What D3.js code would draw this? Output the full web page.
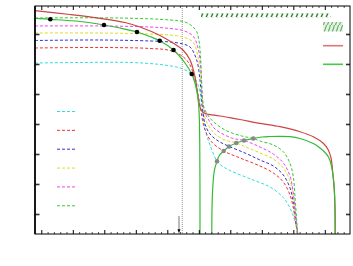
<!DOCTYPE html>
<html>
<head>
<meta charset="utf-8">
<script src="https://d3js.org/d3.v7.min.js"></script>
<style>
  body { margin: 0; background: #fff; }
  svg { display: block; }
</style>
</head>
<body>
<div id="chart"></div>
<script>
// curve data, [x, y] in axis units (no tick labels in the original)
var dashCyan = [[0.8,6.033],[2.229,6.05],[3.816,6.05],[4.768,5.983],[5.403,5.867],[5.721,5.7],[5.933,5.41],[6.038,5.067],[6.092,4.633],[6.143,4.2],[6.229,3.7],[6.356,3.3],[6.578,2.757],[6.737,2.6],[6.99,2.45],[7.721,2.133],[8.26,1.9],[8.683,1.55],[8.895,1.2],[9.0,0.933],[9.102,0.567],[9.149,0.333]];
var dashRed = [[0.8,6.533],[2.863,6.55],[4.451,6.517],[5.086,6.45],[5.498,6.243],[5.721,5.967],[5.879,5.467],[5.984,4.933],[6.054,4.533],[6.117,4.133],[6.197,3.8],[6.41,3.4],[6.79,3.1],[7.308,2.867],[7.943,2.6],[8.365,2.367],[8.683,2.067],[8.895,1.633],[9.0,1.2],[9.086,0.633],[9.133,0.333]];
var dashBlue = [[0.8,6.783],[2.863,6.8],[4.451,6.767],[5.086,6.733],[5.498,6.667],[5.721,6.567],[5.933,6.133],[6.038,5.467],[6.086,4.867],[6.133,4.4],[6.197,4.0],[6.356,3.667],[6.619,3.433],[6.968,3.25],[7.467,3.033],[7.943,2.8],[8.365,2.6],[8.683,2.3],[8.895,1.867],[9.0,1.4],[9.086,0.733],[9.133,0.333]];
var dashYellow = [[0.8,7.033],[2.863,7.033],[4.451,7.0],[5.086,6.967],[5.498,6.9],[5.816,6.733],[5.975,6.233],[6.06,5.567],[6.102,4.967],[6.133,4.6],[6.197,4.2],[6.356,3.867],[6.514,3.667],[6.832,3.467],[7.19,3.367],[7.562,3.2],[7.943,3.033],[8.365,2.833],[8.683,2.533],[8.895,2.1],[9.0,1.6],[9.086,0.8],[9.133,0.333]];
var dashMagenta = [[0.8,7.267],[2.863,7.267],[4.451,7.233],[5.086,7.183],[5.498,7.117],[5.816,6.933],[5.975,6.533],[6.06,5.9],[6.102,5.133],[6.133,4.7],[6.197,4.367],[6.356,4.067],[6.514,3.833],[7.044,3.533],[7.435,3.45],[7.943,3.233],[8.365,3.0],[8.683,2.7],[8.895,2.267],[9.0,1.7],[9.086,0.867],[9.133,0.333]];
var dashGreen = [[0.8,7.533],[3.498,7.533],[5.086,7.467],[5.562,7.4],[5.784,7.267],[5.933,7.077],[6.016,6.7],[6.06,6.133],[6.086,5.467],[6.102,4.967],[6.133,4.667],[6.197,4.467],[6.41,4.133],[6.832,3.8],[7.362,3.6],[7.73,3.517],[7.943,3.433],[8.365,3.3],[8.683,3.077],[8.895,2.69],[9.0,2.243],[9.054,1.577],[9.108,0.8],[9.143,0.333]];

var solidRed = [[0.8,7.777],[1.911,7.65],[2.863,7.523],[3.657,7.383],[4.133,7.233],[4.768,6.95],[5.181,6.7],[5.498,6.467],[5.721,6.133],[5.879,5.577],[5.975,4.91],[6.038,4.567],[6.133,4.383],[6.673,4.267],[7.308,4.15],[7.943,4.023],[8.578,3.91],[9.213,3.743],[9.635,3.577],[9.952,3.357],[10.111,3.133],[10.197,2.867],[10.26,2.3],[10.302,1.8],[10.324,1.133],[10.33,0.333]];
var solidGreenA = [[0.8,7.523],[1.286,7.49],[2.229,7.417],[2.99,7.3],[3.498,7.2],[4.038,7.067],[4.451,6.917],[4.759,6.777],[5.197,6.467],[5.562,6.033],[5.775,5.667],[5.879,5.367],[5.959,4.967],[6.006,4.467],[6.029,3.467],[6.036,2.133],[6.038,0.333]];
var solidGreenB = [[6.41,0.333],[6.419,1.133],[6.429,1.567],[6.46,2.133],[6.498,2.467],[6.578,2.757],[6.641,2.933],[6.79,3.1],[6.959,3.25],[7.19,3.367],[7.435,3.45],[7.73,3.517],[8.006,3.567],[8.26,3.583],[8.578,3.59],[8.895,3.577],[9.213,3.517],[9.635,3.35],[9.848,3.2],[10.006,3.05],[10.117,2.9],[10.197,2.667],[10.26,2.3],[10.302,1.8],[10.324,1.133],[10.33,0.333]];

var blackDots = [[1.286,7.49],[2.99,7.3],[4.038,7.067],[4.759,6.777],[5.197,6.467],[5.775,5.667]];
var greyDots = [[6.578,2.757],[6.79,3.1],[6.959,3.25],[7.19,3.367],[7.435,3.45],[7.73,3.517]];

var markerX = 5.476;          // dotted vertical line
var arrowX = 5.371;           // small arrow on the bottom axis
var arrowY = [0.933, 0.36];
var hatchRange = [6.07, 10.197];
var hatchY = [7.69, 7.557];

var xMajor = [1,2,3,4,5,6,7,8,9,10];
var xMinor = d3.range(5, 54).map(function(i){ return +(i * 0.2).toFixed(1); })
    .filter(function(v){ return v > 0.8 && v < 10.8 && xMajor.indexOf(v) < 0; });
var yMajor = [1,2,3,4,5,6,7];

(function () {
    var dashedSeries = [
        { data: dashCyan, color: "#33dddd" },
        { data: dashRed, color: "#ee3333" },
        { data: dashBlue, color: "#3333cc" },
        { data: dashYellow, color: "#dddd22" },
        { data: dashMagenta, color: "#ee44ee" },
        { data: dashGreen, color: "#33cc33" }
    ];

    var width = 353, height = 266;
    var mLeft = 35, mRight = 350, mTop = 6, mBottom = 234;

    var x = d3.scaleLinear().domain([0.8, 10.8]).range([mLeft, mRight]);
    var y = d3.scaleLinear().domain([0.333, 7.933]).range([mBottom, mTop]);

    var svg = d3.select("#chart").append("svg")
        .attr("width", width).attr("height", height);

    var defs = svg.append("defs");
    defs.append("clipPath").attr("id", "plotclip")
        .append("rect").attr("x", mLeft).attr("y", mTop)
        .attr("width", mRight - mLeft).attr("height", mBottom - mTop);

    var hp = defs.append("pattern").attr("id", "hatch")
        .attr("patternUnits", "userSpaceOnUse")
        .attr("x", 0).attr("y", y(hatchY[0]))
        .attr("width", 5).attr("height", 4);
    hp.append("line").attr("x1", 1).attr("y1", 4).attr("x2", 3).attr("y2", 0)
        .attr("stroke", "#1e7b1e").attr("stroke-width", 1.4);

    var hp2 = defs.append("pattern").attr("id", "hatchLight")
        .attr("patternUnits", "userSpaceOnUse")
        .attr("x", 0).attr("y", 22)
        .attr("width", 4).attr("height", 9.5);
    hp2.append("rect").attr("width", 4).attr("height", 9.5).attr("fill", "#e2f3e2");
    hp2.append("line").attr("x1", 0.5).attr("y1", 9.5).attr("x2", 3.5).attr("y2", 0)
        .attr("stroke", "#5aa55a").attr("stroke-width", 1);

    var line = d3.line()
        .x(function(d){ return x(d[0]); })
        .y(function(d){ return y(d[1]); })
        .curve(d3.curveCatmullRom.alpha(0.5));

    var plot = svg.append("g").attr("clip-path", "url(#plotclip)");

    // dotted marker
    plot.append("line")
        .attr("x1", x(markerX)).attr("x2", x(markerX))
        .attr("y1", mTop).attr("y2", mBottom)
        .attr("stroke", "#999").attr("stroke-width", 1)
        .attr("stroke-dasharray", "1,1");

    // hatched bar
    plot.append("rect")
        .attr("x", x(hatchRange[0])).attr("width", x(hatchRange[1]) - x(hatchRange[0]))
        .attr("y", y(hatchY[0])).attr("height", y(hatchY[1]) - y(hatchY[0]))
        .attr("fill", "url(#hatch)");

    dashedSeries.forEach(function(s){
        plot.append("path").datum(s.data)
            .attr("d", line)
            .attr("fill", "none")
            .attr("stroke", s.color)
            .attr("stroke-width", 1)
            .attr("stroke-dasharray", "3,2");
    });

    plot.append("path").datum(solidRed).attr("d", line)
        .attr("fill", "none").attr("stroke", "#cc4444").attr("stroke-width", 1.2);
    plot.append("path").datum(solidGreenA).attr("d", line)
        .attr("fill", "none").attr("stroke", "#33bb33").attr("stroke-width", 1.2);
    plot.append("path").datum(solidGreenB).attr("d", line)
        .attr("fill", "none").attr("stroke", "#33bb33").attr("stroke-width", 1.2);

    plot.selectAll("circle.blk").data(blackDots).enter().append("circle")
        .attr("class", "blk")
        .attr("cx", function(d){ return x(d[0]); })
        .attr("cy", function(d){ return y(d[1]); })
        .attr("r", 2.3).attr("fill", "#000");
    plot.selectAll("circle.gry").data(greyDots).enter().append("circle")
        .attr("class", "gry")
        .attr("cx", function(d){ return x(d[0]); })
        .attr("cy", function(d){ return y(d[1]); })
        .attr("r", 2.3).attr("fill", "#888");

    // arrow
    svg.append("line")
        .attr("x1", x(arrowX)).attr("x2", x(arrowX))
        .attr("y1", y(arrowY[0])).attr("y2", y(arrowY[1]) - 3)
        .attr("stroke", "#777").attr("stroke-width", 1);
    svg.append("path")
        .attr("d", "M" + (x(arrowX) - 1.5) + "," + (y(arrowY[1]) - 4) +
                   "L" + (x(arrowX) + 1.5) + "," + (y(arrowY[1]) - 4) +
                   "L" + x(arrowX) + "," + y(arrowY[1]) + "Z")
        .attr("fill", "#000");

    // axes: ticks only, pointing inwards
    function tickAxis(axis, vals, size, tr, col, sw) {
        var g = svg.append("g").attr("transform", tr)
            .call(axis.tickValues(vals).tickSize(size).tickFormat(""));
        g.select(".domain").remove();
        g.selectAll(".tick line").attr("stroke", col).attr("stroke-width", sw);
        return g;
    }
    tickAxis(d3.axisBottom(x), xMinor, -2, "translate(0," + mBottom + ")", "#555", 1);
    tickAxis(d3.axisBottom(x), xMajor, -4, "translate(0," + mBottom + ")", "#000", 1);
    tickAxis(d3.axisTop(x), xMinor, -2, "translate(0," + mTop + ")", "#555", 1);
    tickAxis(d3.axisTop(x), xMajor, -4, "translate(0," + mTop + ")", "#000", 1);
    tickAxis(d3.axisLeft(y), yMajor, -4.5, "translate(" + mLeft + ",0)", "#333", 1.6);
    tickAxis(d3.axisRight(y), yMajor, -4, "translate(" + mRight + ",0)", "#333", 1.6);

    svg.append("rect")
        .attr("x", mLeft).attr("y", mTop)
        .attr("width", mRight - mLeft).attr("height", mBottom - mTop)
        .attr("fill", "none").attr("stroke", "#000").attr("stroke-width", 1);
    svg.append("line").attr("x1", mLeft).attr("x2", mLeft).attr("y1", mTop).attr("y2", mBottom)
        .attr("stroke", "#000").attr("stroke-width", 1.6);

    // left legend (dashed samples, no labels)
    var legL = svg.append("g").attr("transform", "translate(57,111.5)");
    dashedSeries.forEach(function(s, i){
        legL.append("line")
            .attr("x1", 0).attr("x2", 20)
            .attr("y1", i * 18.85).attr("y2", i * 18.85)
            .attr("stroke", s.color).attr("stroke-width", 1)
            .attr("stroke-dasharray", "3,2");
    });

    // right legend
    var legR = svg.append("g").attr("transform", "translate(323,22)");
    legR.append("rect").attr("x", 0).attr("y", 0).attr("width", 20).attr("height", 9.5)
        .attr("fill", "url(#hatchLight)");
    legR.append("line").attr("x1", 0).attr("x2", 20).attr("y1", 23.7).attr("y2", 23.7)
        .attr("stroke", "#dd7777").attr("stroke-width", 1.6);
    legR.append("line").attr("x1", 0).attr("x2", 20).attr("y1", 42.3).attr("y2", 42.3)
        .attr("stroke", "#44cc44").attr("stroke-width", 1.6);
})();
</script>
</body>
</html>
